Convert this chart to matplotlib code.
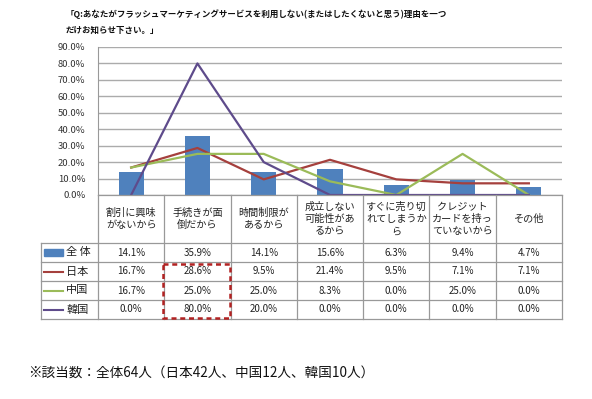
import matplotlib
matplotlib.use("Agg")
import matplotlib.pyplot as plt
from matplotlib.patches import Rectangle
from matplotlib.ticker import FuncFormatter

plt.rcParams['font.family'] = ['Noto Sans CJK JP', 'DejaVu Sans']

title = "「Q:あなたがフラッシュマーケティングサービスを利用しない(またはしたくないと思う)理由を一つ\nだけお知らせ下さい。」"
footnote = "※該当数：全体64人（日本42人、中国12人、韓国10人）"

categories = ["割引に興味\nがないから", "手続きが面\n倒だから", "時間制限が\nあるから",
              "成立しない\n可能性があ\nるから", "すぐに売り切\nれてしまうか\nら",
              "クレジット\nカードを持っ\nていないから", "その他"]
series_names = ["全 体", "日本", "中国", "韓国"]
zentai = [14.1, 35.9, 14.1, 15.6, 6.3, 9.4, 4.7]
japan = [16.7, 28.6, 9.5, 21.4, 9.5, 7.1, 7.1]
china = [16.7, 25.0, 25.0, 8.3, 0.0, 25.0, 0.0]
korea = [0.0, 80.0, 20.0, 0.0, 0.0, 0.0, 0.0]
yticks = [0, 10, 20, 30, 40, 50, 60, 70, 80, 90]

colors = ["#4F81BD", "#A5403D", "#9BBB59", "#5E4B8B"]

W, H = 592, 399
fig = plt.figure(figsize=(W / 100, H / 100), dpi=100)

def px_axes(l, t, r, b):
    return fig.add_axes([l / W, 1 - b / H, (r - l) / W, (b - t) / H])

# main chart
ax = px_axes(98, 47, 562, 195)
n = len(categories)
x = list(range(n))
ax.bar(x, zentai, width=0.38, color=colors[0], zorder=3)
for vals, c in zip([japan, china, korea], colors[1:]):
    ax.plot(x, vals, color=c, lw=1.6, zorder=4)
ax.set_xlim(-0.5, n - 0.5)
ax.set_ylim(0, 90)
ax.set_yticks(yticks)
ax.yaxis.set_major_formatter(FuncFormatter(lambda v, p: f"{v:.1f}%"))
ax.tick_params(axis='y', length=0, labelsize=6.8, colors="#333333", pad=9)
ax.set_xticks([])
ax.grid(axis='y', color="#ABABAB", lw=1.0, zorder=0)
for s in ["top", "right", "bottom"]:
    ax.spines[s].set_visible(False)
ax.spines["left"].set_color("#999999")

# data table
cw = 464 / n
left_ext = -0.5 - (98 - 41) / cw
tax = px_axes(41, 195, 562, 320)
tax.set_xlim(left_ext, n - 0.5)
tax.set_ylim(125, 0)
tax.axis("off")
lc = "#999999"
rows = [0, 48, 67, 86, 105, 124]
for k in range(n + 1):
    tax.plot([-0.5 + k, -0.5 + k], [0, 124], color=lc, lw=0.9, clip_on=False)
tax.plot([left_ext, left_ext], [48, 124], color=lc, lw=0.9, clip_on=False)
tax.plot([-0.5, n - 0.5], [0, 0], color=lc, lw=0.9, clip_on=False)
for yv in rows[1:]:
    tax.plot([left_ext, n - 0.5], [yv, yv], color=lc, lw=0.9, clip_on=False)

for i, cat in enumerate(categories):
    tax.text(i, 24, cat, ha="center", va="center", fontsize=7.3,
             color="#222222", linespacing=1.25)

data_rows = [zentai, japan, china, korea]
for r, (vals, name, c) in enumerate(zip(data_rows, series_names, colors)):
    yc = (rows[r + 1] + rows[r + 2]) / 2
    for i, v in enumerate(vals):
        tax.text(i, yc, f"{v:.1f}%", ha="center", va="center", fontsize=7,
                 color="#222222")
    mx0 = left_ext + 3 / cw
    mx1 = left_ext + 22 / cw
    if r == 0:
        tax.add_patch(Rectangle((mx0, yc - 3.5), mx1 - mx0, 7, color=c, clip_on=False))
    else:
        tax.plot([mx0, mx1], [yc, yc], color=c, lw=1.5, clip_on=False)
    tax.text(left_ext + 25 / cw, yc, name, ha="left", va="center", fontsize=8,
             color="#222222")

# red dashed highlight box
bx0 = -0.5 + (163 - 98) / cw
bx1 = -0.5 + (230 - 98) / cw
tax.add_patch(Rectangle((bx0, 69), bx1 - bx0, 54, fill=False, ec="#B22222",
                        lw=1.8, ls=(0, (2, 1.5)), clip_on=False, zorder=5))

fig.text(66 / W, 1 - 22 / H, title, ha="left", va="center", fontsize=6.1,
         color="#111111", linespacing=1.9, fontweight="bold")
fig.text(28 / W, 1 - 373 / H, footnote, ha="left", va="center", fontsize=9.8,
         color="#111111")

fig.savefig("out.png", dpi=100)
